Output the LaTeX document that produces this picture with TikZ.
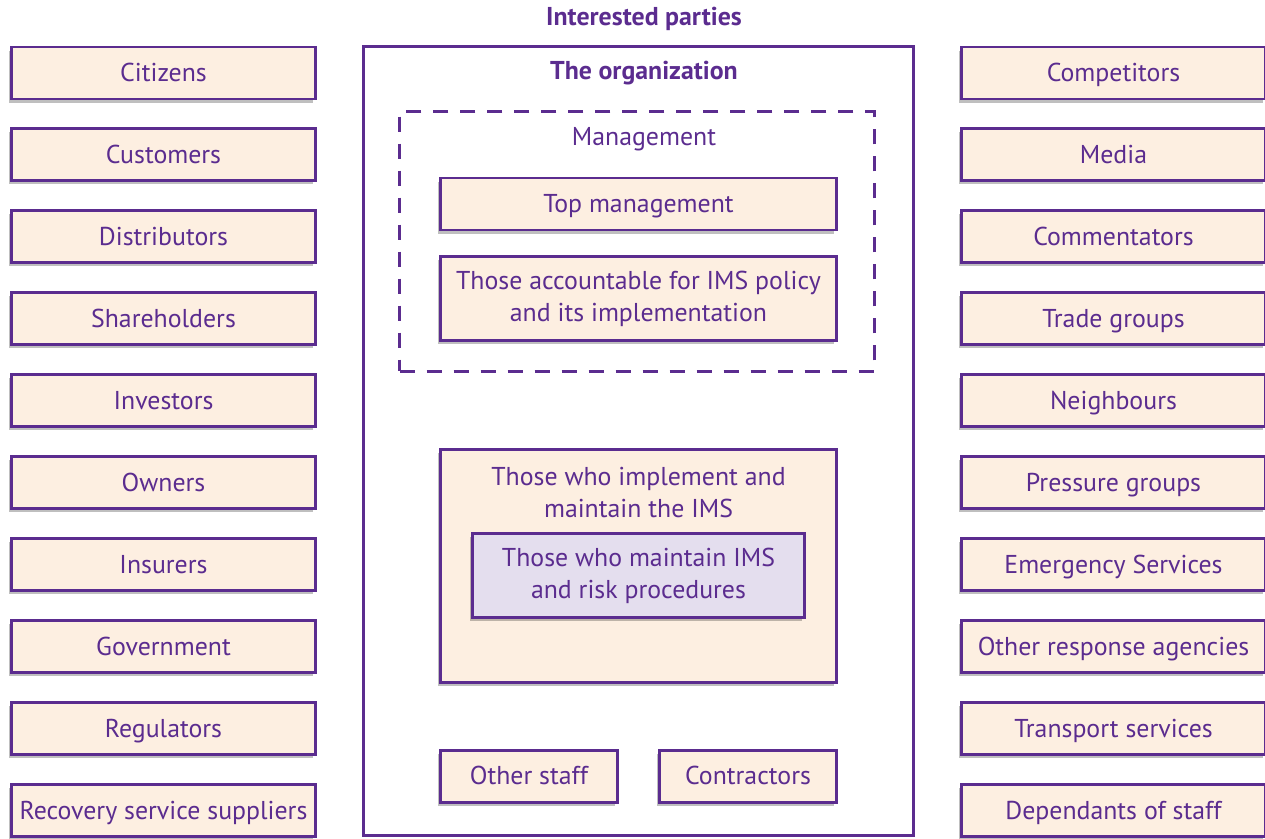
\documentclass[tikz,border=0pt]{standalone}
\usepackage{fontspec}
\setmainfont{PT Sans}
\usepackage{tikz}
\usetikzlibrary{positioning, shadows}
\definecolor{ipurple}{HTML}{5B2C8F}
\definecolor{ipeach}{HTML}{FDEFE1}
\definecolor{ililac}{HTML}{E4DEEE}

\begin{document}
\begin{tikzpicture}[
      font=\fontsize{14.7}{18.2}\selectfont, text=ipurple,
      node distance=0.54cm,
      party/.style={draw=ipurple, fill=ipeach, line width=1.7pt,
                    minimum width=6.08cm, minimum height=1.04cm,
                    inner sep=0pt, align=center,
                    text height=0.94em, text depth=0pt,
                    drop shadow={shadow xshift=-1.5pt, shadow yshift=-2pt,
                                 fill=black, opacity=0.25}},
      twoline/.style={text height=, text depth=},
      inbox/.style={party, minimum width=7.92cm},
      small/.style={party, minimum width=3.54cm},
      frame/.style={draw=ipurple, line width=1.7pt, inner sep=0pt},
      head/.style={font=\bfseries\fontsize{14.7}{18.2}\selectfont},
    ]
    \useasboundingbox (0,0) rectangle (25.3,-16.78);

    \node[head] (ttl) at (12.88,-0.38) {Interested parties};

    % left column
    \node[party] (cit) at (3.27,-1.46) {Citizens};
    \node[party, below=of cit] (cus) {Customers};
    \node[party, below=of cus] (dis) {Distributors};
    \node[party, below=of dis] (sha) {Shareholders};
    \node[party, below=of sha] (inv) {Investors};
    \node[party, below=of inv] (own) {Owners};
    \node[party, below=of own] (ins) {Insurers};
    \node[party, below=of ins] (gov) {Government};
    \node[party, below=of gov] (reg) {Regulators};
    \node[party, below=of reg] (rec) {Recovery service suppliers};

    % right column
    \node[party] (com) at (22.27,-1.46) {Competitors};
    \node[party, below=of com] (med) {Media};
    \node[party, below=of med] (cmt) {Commentators};
    \node[party, below=of cmt] (tra) {Trade groups};
    \node[party, below=of tra] (nei) {Neighbours};
    \node[party, below=of nei] (pre) {Pressure groups};
    \node[party, below=of pre] (eme) {Emergency Services};
    \node[party, below=of eme] (oth) {Other response agencies};
    \node[party, below=of oth] (trn) {Transport services};
    \node[party, below=of trn] (dep) {Dependants of staff};

    % the organization
    \node[frame, minimum width=11.0cm, minimum height=15.78cm] (org)
      at (12.77,-8.82) {};
    \node[head] (orgt) at (12.88,-1.46) {The organization};

    \node[frame, dashed, dash pattern=on 0.3cm off 0.24cm,
          minimum width=9.5cm, minimum height=5.2cm] (mgt) at (12.74,-4.83) {};
    \node (mgtt) at (12.88,-2.78) {Management};
    \node[inbox] (top) at (12.77,-4.08) {Top management};
    \node[inbox, twoline, minimum height=1.68cm] (acc) at (12.77,-5.97)
      {Those accountable for IMS policy\\and its implementation};

    \node[inbox, twoline, minimum height=4.66cm] (imp) at (12.77,-11.32) {};
    \node[align=center, below=0.26cm of imp.north] (impt)
      {Those who implement and\\maintain the IMS};
    \node[party, twoline, fill=ililac, minimum width=6.64cm, minimum height=1.68cm]
      (rsk) at (12.77,-11.51) {Those who maintain IMS\\and risk procedures};

    \node[small] (ost) at (10.58,-15.53) {Other staff};
    \node[small] (ctr) at (14.96,-15.53) {Contractors};
  \end{tikzpicture}
\end{document}
